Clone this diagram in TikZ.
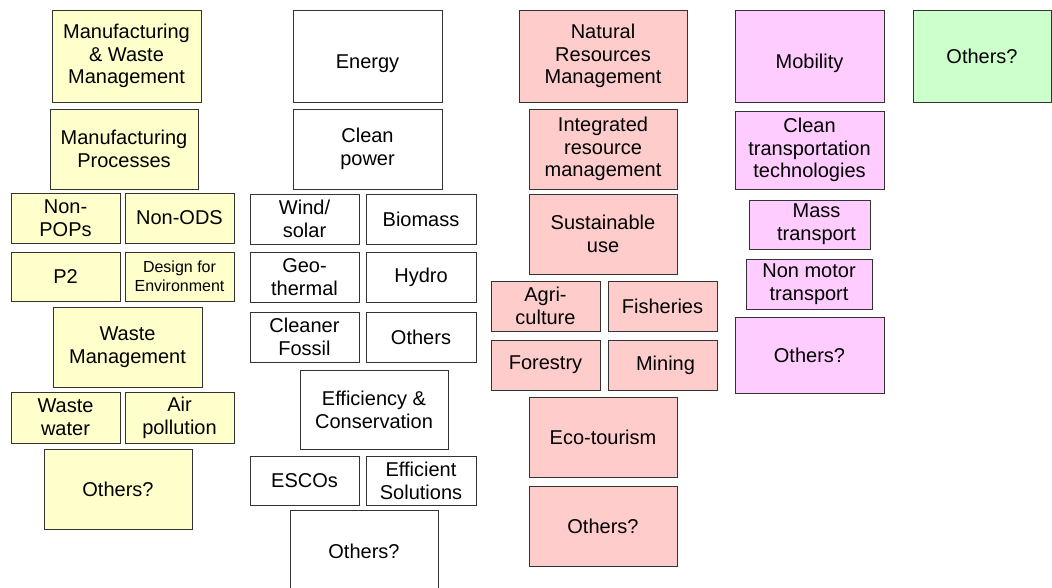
\documentclass[tikz,border=0pt]{standalone}
\usepackage{fontspec}
\setmainfont{Liberation Sans}
\usetikzlibrary{shadows}

\definecolor{mfgfill}{HTML}{FFFFCC}
\definecolor{nrmfill}{HTML}{FFCCCC}
\definecolor{mobfill}{HTML}{FFCCFF}
\definecolor{othfill}{HTML}{CCFFCC}

\tikzset{
  panel/.style={draw=black!80, line width=0.8pt, rectangle, inner sep=0pt, outer sep=0pt,
    align=center, font=\fontsize{20}{22.8}\selectfont,
    general shadow={shadow xshift=0.9pt, shadow yshift=-0.9pt, fill=black!45}},
  mfg/.style={panel, fill=mfgfill},
  nrg/.style={panel, fill=white},
  nrm/.style={panel, fill=nrmfill},
  mob/.style={panel, fill=mobfill},
  oth/.style={panel, fill=othfill},
  smalltext/.style={font=\fontsize{16}{19.3}\selectfont},
}

% \panel{style}{name}{x1}{y1}{x2}{y2}{text}: box given by its corners
\newcommand{\panel}[7]{%
  \node[#1, minimum width={(#5-#3)*1pt}, minimum height={(#6-#4)*1pt}]
    (#2) at ({(#3+#5)/2},{(#4+#6)/2}) {#7};}
% lower a label inside its box without changing the box size
\newcommand{\lowered}[2]{\raisebox{-#1}[\height][\depth]{#2}}

\begin{document}
\begin{tikzpicture}[x=1pt, y=-1pt]
\useasboundingbox (0,0) rectangle (1052,587);
\clip (0,0) rectangle (1052,587);

% Manufacturing & Waste Management
\panel{mfg}{mwm}{52}{10}{201}{102}{Manufacturing\\\& Waste\\Management}
\panel{mfg}{mproc}{50}{109}{198}{189}{Manufacturing\\Processes}
\panel{mfg}{npops}{11}{193}{120}{243}{Non-\\POPs}
\panel{mfg}{nods}{125}{193}{234}{243}{Non-ODS}
\panel{mfg}{ptwo}{11}{252}{120}{301}{P2}
\panel{mfg,smalltext}{dfe}{125}{252}{234}{301}{Design for\\Environment}
\panel{mfg}{wmgmt}{53}{307}{202}{387}{Waste\\Management}
\panel{mfg}{wwater}{11}{392}{120}{443}{Waste\\water}
\panel{mfg}{airpol}{125}{392}{234}{443}{Air\\pollution}
\panel{mfg}{mothers}{44}{449}{192}{529}{Others?}

% Energy
\panel{nrg}{energy}{293}{10}{442}{102}{\lowered{8pt}{Energy}}
\panel{nrg}{cpower}{293}{109}{442}{189}{Clean\\power}
\panel{nrg}{wind}{250}{194}{359}{244}{Wind/\\solar}
\panel{nrg}{biomass}{366}{194}{476}{244}{Biomass}
\panel{nrg}{geo}{250}{252}{359}{302}{Geo-\\thermal}
\panel{nrg}{hydro}{366}{252}{476}{302}{Hydro}
\panel{nrg}{fossil}{250}{312}{359}{362}{Cleaner\\Fossil}
\panel{nrg}{eothers}{366}{312}{476}{362}{Others}
\panel{nrg}{effcon}{300}{370}{448}{449}{Efficiency \&\\Conservation}
\panel{nrg}{escos}{250}{456}{359}{505}{ESCOs}
\panel{nrg}{effsol}{366}{456}{476}{505}{Efficient\\Solutions}
\panel{nrg}{eothersq}{290}{510}{438}{596}{\lowered{-2pt}{Others?}}

% Natural Resources Management
\panel{nrm}{natres}{519}{10}{687}{102}{Natural\\Resources\\Management}
\panel{nrm}{intres}{529}{109}{677}{189}{Integrated\\resource\\management}
\panel{nrm}{sustuse}{529}{194}{677}{274}{Sustainable\\use}
\panel{nrm}{agri}{491}{281}{600}{331}{Agri-\\culture}
\panel{nrm}{fish}{608}{281}{717}{331}{Fisheries}
\panel{nrm}{forest}{491}{340}{600}{390}{Forestry}
\panel{nrm}{mining}{608}{340}{717}{390}{\hspace*{6pt}Mining}
\panel{nrm}{ecotour}{529}{397}{677}{477}{Eco-tourism}
\panel{nrm}{rothers}{529}{486}{677}{566}{Others?}

% Mobility
\panel{mob}{mobility}{735}{10}{884}{102}{\lowered{7pt}{Mobility}}
\panel{mob}{cleantr}{735}{111}{884}{189}{Clean\\transportation\\technologies}
\panel{mob}{masstr}{749}{200}{870}{249}{\hspace*{14pt}Mass\\\hspace*{14pt}transport}
\panel{mob}{nonmotor}{746}{259}{872}{309}{Non motor\\transport}
\panel{mob}{mothersq}{735}{317}{884}{393}{Others?}

% Further areas
\panel{oth}{others}{913}{10}{1051}{102}{Others?}
\end{tikzpicture}
\end{document}
